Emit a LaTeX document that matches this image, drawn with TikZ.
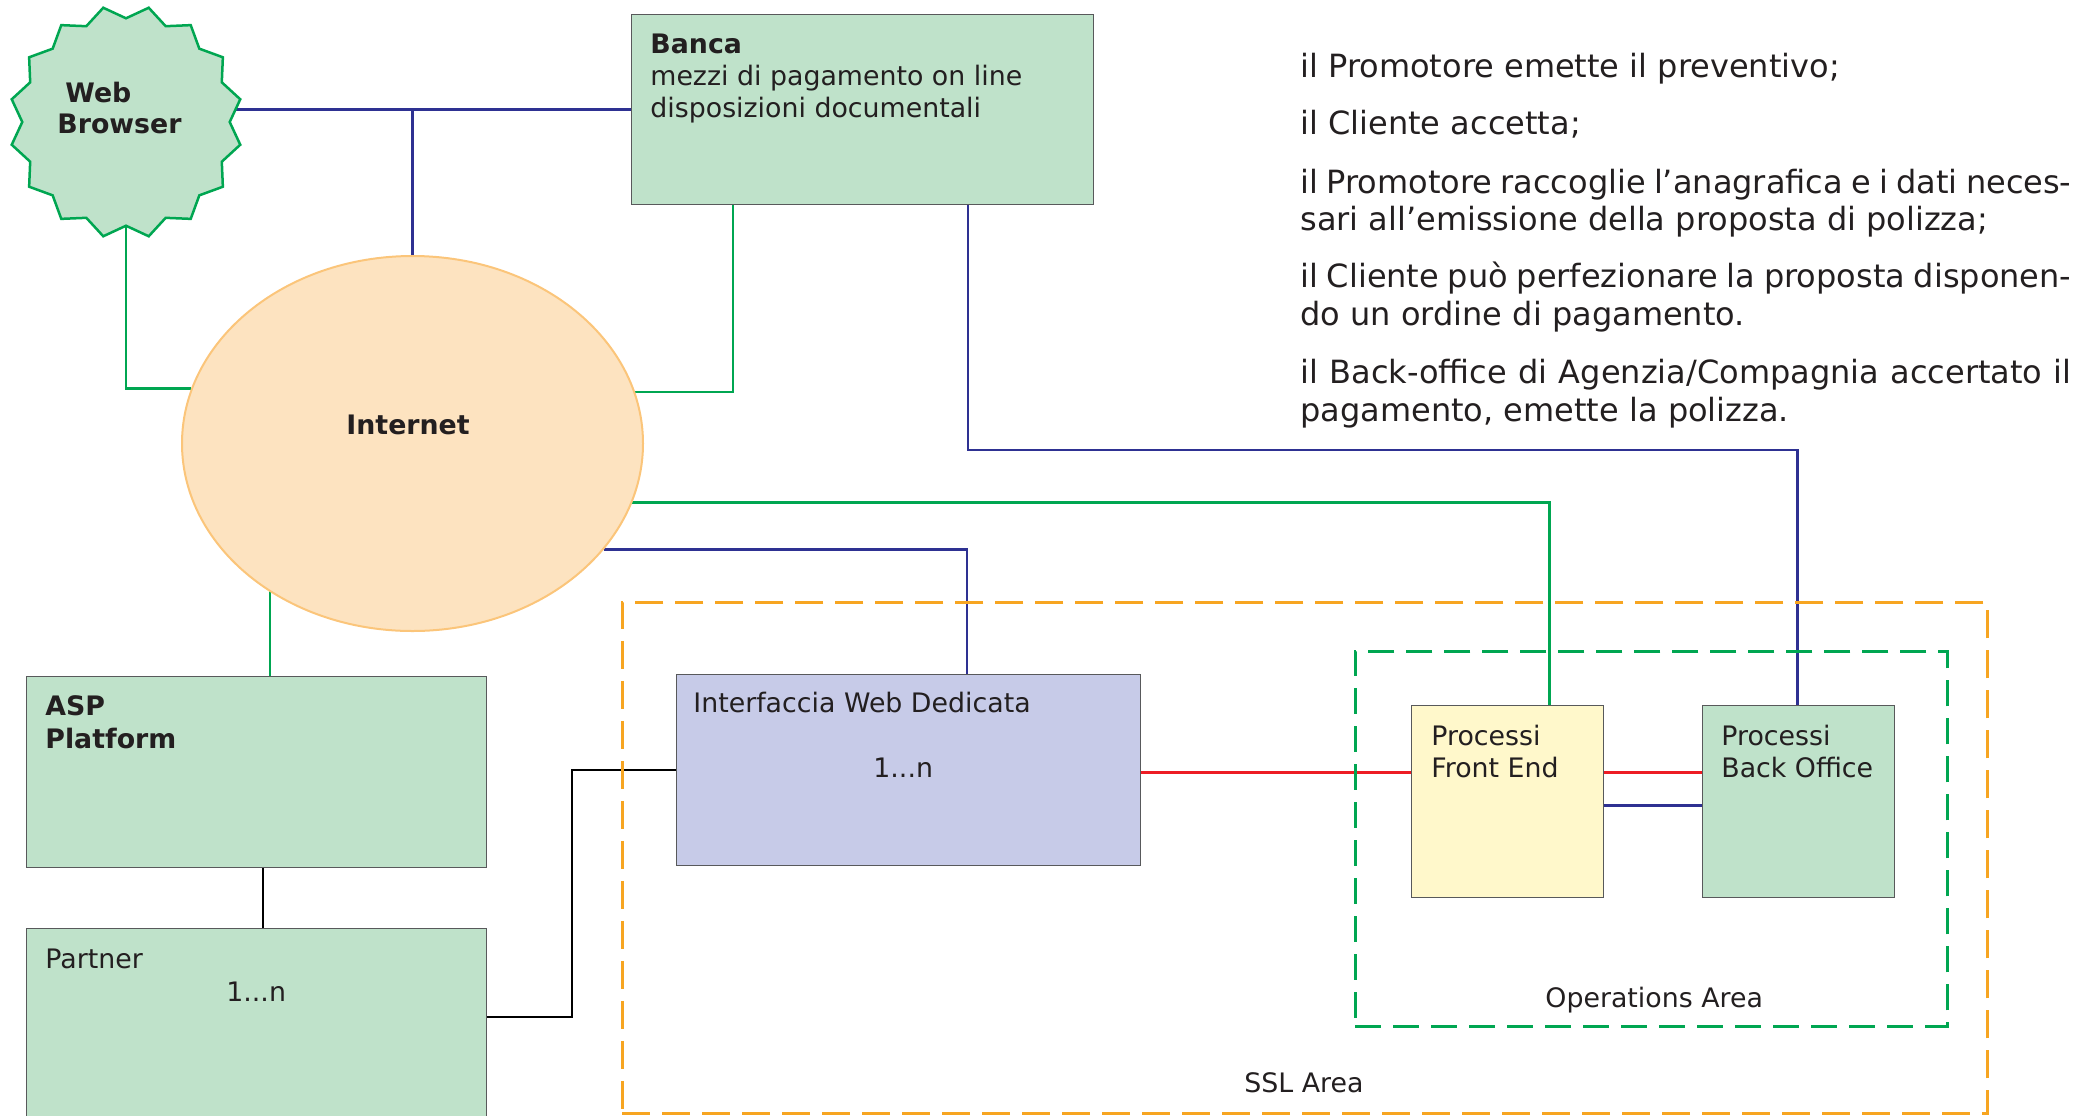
\documentclass[tikz,border=0pt]{standalone}
\usepackage{fontspec}
\setmainfont{DejaVu Sans}
\usetikzlibrary{shapes.geometric,backgrounds,calc}
\definecolor{boxgreen}{HTML}{BFE2CA}
\definecolor{lgreen}{HTML}{00A651}
\definecolor{lblue}{HTML}{2E3192}
\definecolor{inetfill}{HTML}{FDE3C0}
\definecolor{inetdraw}{HTML}{FBC57A}
\definecolor{iwebfill}{HTML}{C7CBE8}
\definecolor{fefill}{HTML}{FFF8CB}
\definecolor{lred}{HTML}{ED1C24}
\definecolor{sslorange}{HTML}{F7A521}
\definecolor{txt}{HTML}{231F20}
\definecolor{boxdraw}{HTML}{58595B}
\tikzset{
  box/.style={draw=boxdraw, line width=0.6pt, fill=boxgreen, inner sep=0, anchor=north west},
  conn/.style={line width=1.25pt},
  bconn/.style={line width=1.3pt, lblue},
  lbl/.style={anchor=base west, inner sep=0, text=txt, font=\fontsize{13.4pt}{16pt}\selectfont},
  lblb/.style={anchor=base west, inner sep=0, text=txt, font=\fontsize{13.4pt}{16pt}\selectfont\bfseries},
  rtxt/.style={anchor=base west, inner sep=0, text=txt, font=\fontsize{16pt}{19pt}\selectfont},
  area/.style={inner sep=0, anchor=north west},
}
\begin{document}
\begin{tikzpicture}[x=0.5pt,y=-0.5pt]
\useasboundingbox (0,0) rectangle (2092,1115);
% nodes
\node[star, star points=16, star point ratio=1.1235, shape border rotate=11.25,
      minimum size=116.5pt, inner sep=0, draw=lgreen, line width=1.25pt, fill=boxgreen] (wb) at (126,122) {};
\node[box, minimum width=231pt, minimum height=95pt] (banca) at (631,14) {};
\node[ellipse, minimum width=230.5pt, minimum height=187.5pt, inner sep=0,
      fill=inetfill, draw=inetdraw, line width=1pt] (inet) at (412.5,443.5) {};
\node[box, minimum width=230pt, minimum height=95.5pt] (asp) at (26,676) {};
\node[box, minimum width=230pt, minimum height=96pt] (partner) at (26,928) {};
\node[area, draw=sslorange, line width=1.3pt, dash pattern=on 14pt off 6pt, minimum width=682.5pt, minimum height=255.5pt] (ssl) at (621,601) {};
\node[area, draw=lgreen, line width=1.3pt, dash pattern=on 13pt off 6pt, minimum width=296pt, minimum height=187.5pt] (ops) at (1354,650) {};
\node[box, fill=iwebfill, minimum width=232pt, minimum height=95.5pt] (iweb) at (676,674) {};
\node[box, fill=fefill, minimum width=96pt, minimum height=96pt] (fe) at (1411,705) {};
\node[box, minimum width=96pt, minimum height=96pt] (bo) at (1702,705) {};

% connectors
\coordinate (jb) at (inet.north |- banca.west);
\coordinate (r1) at ($(fe.west)+(0,-29)$);
\begin{scope}[on background layer]
\draw[bconn] (wb.center |- banca.west) -- (banca.west);
\draw[bconn] (inet.north) -- (jb);
\draw[conn, lgreen] (wb.south) |- (inet.166.4);
\draw[conn, lgreen] ($(banca.south west)+(102,0)$) |- (inet.13.6);
\draw[bconn] ($(banca.south west)+(337,0)$) |- ($(bo.north)+(-1,-255)$) -- ($(bo.north)+(-1,0)$);
\draw[conn, lgreen] (inet.-15) -| ($(fe.north)+(42,0)$);
\draw[bconn] (inet.-29.6) -| ($(iweb.north west)+(291,0)$);
\draw[conn, lgreen] ($(asp.north west)+(244,0)$) -- ($(asp.north west)+(244,-100)$);
\draw[conn, black] ($(asp.south west)+(237,0)$) -- ($(partner.north west)+(237,0)$);
\draw[conn, black] ($(partner.north east)+(0,89)$) -| ($(iweb.west)+(-104,0)$) -- (iweb.west);
\draw[conn, lred] (iweb.east |- r1) -- (r1);
\draw[conn, lred] ($(fe.east)+(0,-29)$) -- ($(bo.west)+(0,-29)$);
\draw[bconn] ($(fe.east)+(0,4)$) -- ($(bo.west)+(0,4)$);
\end{scope}

% texts
\node[lblb] (wbt1) at (65,102) {Web};
\node[lblb] (wbt2) at (57,133) {Browser};
\node[lblb] (bt1) at (650,53) {Banca};
\node[lbl] (bt2) at (650,85) {mezzi di pagamento on line};
\node[lbl] (bt3) at (650,117) {disposizioni documentali};
\node[lblb] (it) at (346,434) {Internet};
\node[lblb] (at1) at (45,715) {ASP};
\node[lblb] (at2) at (45,748) {Platform};
\node[lbl] (pt1) at (45,968) {Partner};
\node[lbl] (pt2) at (226,1001) {1...n};
\node[lbl] (wt1) at (693,712) {Interfaccia Web Dedicata};
\node[lbl] (wt2) at (873,777) {1...n};
\node[lbl] (ft1) at (1431,745) {Processi};
\node[lbl] (ft2) at (1431,777) {Front End};
\node[lbl] (ot1) at (1721,745) {Processi};
\node[lbl] (ot2) at (1721,777) {Back Office};
\node[lbl] (opt) at (1545,1007) {Operations Area};
\node[lbl] (sslt) at (1244,1092) {SSL Area};

\node[rtxt] (s1) at (1300,77) {il Promotore emette il preventivo;};
\node[rtxt] (s2) at (1300,134) {il Cliente accetta;};
\node[rtxt] (s3) at (1300,193) {\makebox[385.5pt][s]{il Promotore raccoglie l’anagrafica e i dati neces-}};
\node[rtxt] (s4) at (1300,230) {sari all’emissione della proposta di polizza;};
\node[rtxt] (s5) at (1300,287) {\makebox[385.5pt][s]{il Cliente può perfezionare la proposta disponen-}};
\node[rtxt] (s6) at (1300,325) {do un ordine di pagamento.};
\node[rtxt] (s7) at (1300,383) {\makebox[385.5pt][s]{il Back-office di Agenzia/Compagnia accertato il}};
\node[rtxt] (s8) at (1300,421) {pagamento, emette la polizza.};
\end{tikzpicture}
\end{document}
